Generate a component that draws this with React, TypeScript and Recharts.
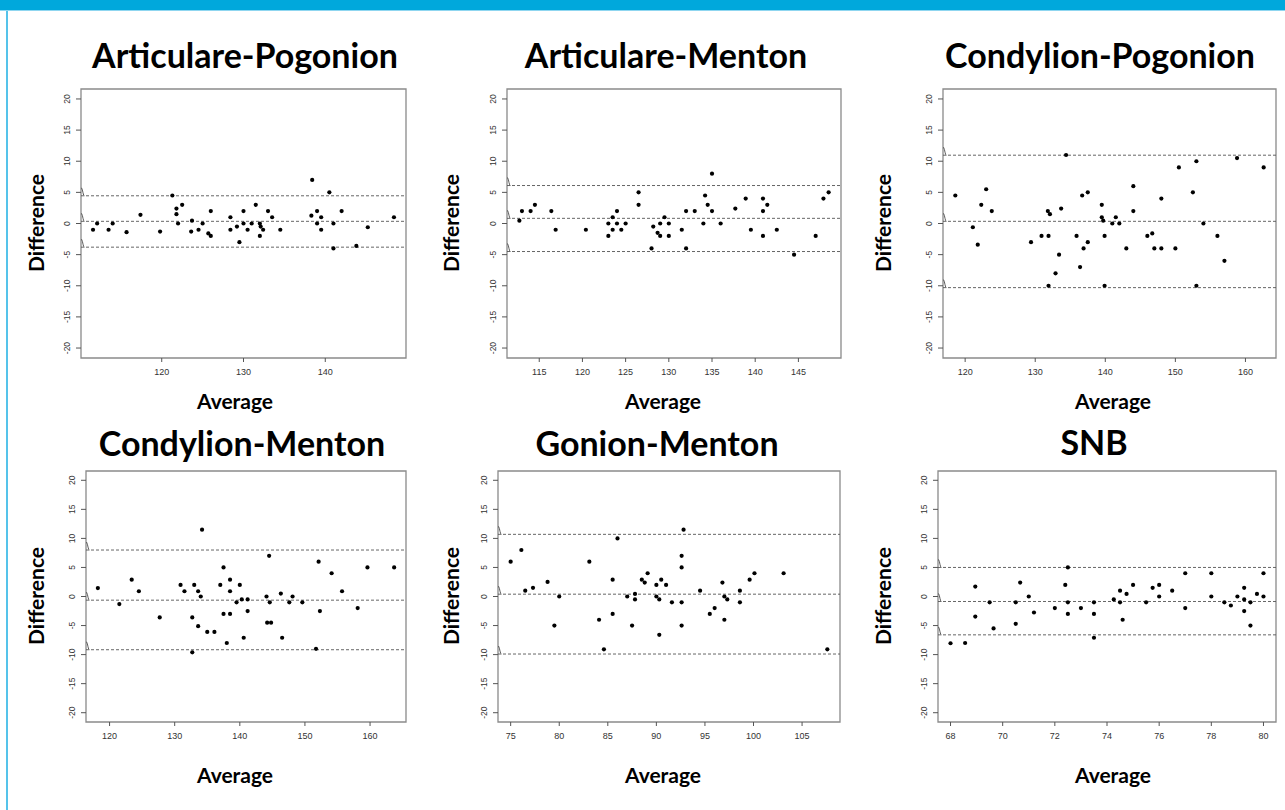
import { ScatterChart, Scatter, XAxis, YAxis, ReferenceLine, ReferenceArea } from "recharts";

// Bland-Altman data: average of the two measurements vs their difference
const apAvg = [111.6, 112.1, 113.5, 114.0, 115.7, 117.4, 119.8, 121.3, 121.8, 121.8, 122.0, 122.5, 123.7, 123.6, 124.5, 125.0, 125.7, 126.0, 126.0, 128.4, 128.4, 129.2, 129.5, 130.0, 130.0, 130.5, 131.0, 131.5, 132.0, 132.1, 132.4, 132.0, 133.0, 133.5, 134.5, 138.3, 138.4, 139.0, 139.0, 139.5, 139.5, 140.5, 141.0, 141.0, 142.0, 143.8, 145.2, 148.4];
const apDiff = [-1, 0, -1, 0, -1.4, 1.4, -1.3, 4.5, 2.4, 1.5, 0, 3, 0.45, -1.3, -1, 0, -1.6, -2, 2, 1, -1, -0.5, -3, 2, 0, -1, 0, 3, 0, -0.5, -1, -2, 2, 1, -1, 1.25, 7, 2, 0, 1, -1, 5, 0, -4, 2, -3.6, -0.6, 1];
const apLimits = [4.45, 0.35, -3.8];

const amAvg = [112.7, 113.0, 114.0, 114.5, 116.4, 116.9, 120.4, 123.0, 123.0, 123.5, 123.5, 124.0, 124.0, 124.5, 125.0, 126.5, 126.5, 128.0, 128.2, 128.7, 129.0, 129.0, 129.5, 130.0, 130.0, 131.5, 132.0, 132.0, 133.0, 134.0, 134.2, 134.5, 135.0, 135.0, 136.0, 137.7, 138.9, 139.5, 140.9, 140.9, 140.9, 141.4, 142.5, 144.5, 147.0, 147.9, 148.5];
const amDiff = [0.45, 2, 2, 3, 2, -1, -1, 0, -2, 1, -1, 2, 0, -1, 0, 5, 3, -4, -0.5, -1.5, -2, 0, 1, 0, -2, -1, 2, -4, 2, 0, 4.5, 3, 8, 2, 0, 2.4, 4, -1, 4, 2, -2, 3, -1, -5, -2, 4, 5];
const amLimits = [6.1, 0.83, -4.5];

const cpAvg = [118.6, 121.1, 121.8, 122.3, 123.0, 123.8, 129.4, 130.9, 131.8, 131.9, 132.1, 131.9, 132.9, 133.4, 133.7, 134.4, 135.9, 136.4, 136.7, 136.9, 137.5, 137.5, 139.5, 139.5, 139.7, 139.9, 139.9, 141.0, 141.5, 142.0, 143.0, 144.0, 144.0, 146.0, 146.7, 147.0, 148.0, 148.0, 150.0, 150.5, 152.5, 153.0, 153.0, 154.0, 156.0, 157.0, 158.8, 162.6];
const cpDiff = [4.5, -0.6, -3.4, 3, 5.5, 2, -3, -2, 2, -2, 1.5, -10, -8, -5, 2.4, 11, -2, -7, 4.5, -4, 5, -3, 3, 1, 0.45, -2, -10, 0, 1, 0, -4, 6, 2, -2, -1.6, -4, 4, -4, -4, 9, 5, 10, -10, 0, -2, -6, 10.5, 9];
const cpLimits = [10.97, 0.35, -10.3];

const cmAvg = [118.2, 121.5, 123.4, 124.5, 127.7, 130.9, 131.5, 132.7, 132.7, 133.0, 133.6, 133.6, 134.0, 134.2, 135.0, 136.1, 137.0, 137.5, 137.5, 138.0, 138.5, 138.5, 138.5, 139.5, 140.0, 140.3, 140.6, 141.2, 141.2, 144.1, 144.5, 144.6, 144.2, 144.8, 146.3, 146.5, 147.6, 148.1, 149.6, 151.7, 152.1, 152.3, 154.1, 155.7, 158.1, 159.6, 163.7];
const cmDiff = [1.45, -1.3, 2.9, 0.9, -3.6, 2, 0.9, -3.6, -9.6, 2, 0.9, -5.1, 0, 11.5, -6.1, -6.1, 2, 5, -3, -8, 2.9, 0.9, -3, -1, 2, -0.5, -7.1, -0.5, -2.5, 0, 7, -1, -4.5, -4.5, 0.5, -7.1, -1, 0, -1, -9, 6, -2.5, 4, 0.9, -2, 5, 5];
const cmLimits = [8.0, -0.63, -9.16];

const gmAvg = [75.0, 76.1, 76.5, 77.3, 78.8, 79.5, 80.0, 83.1, 84.1, 84.6, 85.5, 85.5, 86.0, 87.0, 87.5, 87.8, 87.8, 88.5, 88.8, 89.1, 90.0, 90.0, 90.3, 90.3, 90.5, 91.0, 91.6, 92.6, 92.6, 92.6, 92.6, 92.8, 94.5, 95.5, 96.0, 96.8, 97.0, 97.0, 97.3, 98.6, 98.6, 99.6, 100.1, 103.1, 107.6];
const gmDiff = [6, 8, 1, 1.5, 2.5, -5, 0, 6, -4, -9.1, 2.9, -3, 10, 0, -5, 0.45, -0.5, 2.9, 2.4, 4, 2, 0, -0.5, -6.6, 2.9, 2, -1, 7, 5, -1, -5, 11.5, 1, -3, -2, 2.4, 0, -4, -0.5, 1, -1, 2.9, 4, 4, -9.1];
const gmLimits = [10.7, 0.4, -9.9];

const snbAvg = [68.0, 68.56, 68.95, 68.95, 69.5, 69.65, 70.5, 70.5, 70.67, 71.0, 71.2, 72.0, 72.4, 72.5, 72.5, 72.5, 73.0, 73.5, 73.5, 73.5, 74.26, 74.5, 74.5, 74.6, 74.75, 75.0, 75.5, 75.75, 76.0, 76.0, 76.5, 77.0, 77.0, 78.0, 78.0, 78.5, 78.75, 79.0, 79.26, 79.26, 79.26, 79.5, 79.5, 79.75, 80.0, 80.0];
const snbDiff = [-8.05, -8, 1.7, -3.45, -1, -5.5, -1, -4.7, 2.4, 0, -2.75, -2, 2, 5, -1, -3, -2, -1, -3, -7.1, -0.5, 1, -1, -4, 0.45, 2, -1, 1.5, 2, 0, 1, 4, -2, 4, 0, -1, -1.55, 0, 1.5, -0.5, -2.5, -1, -5, 0.45, 4, 0];
const snbLimits = [5.0, -0.86, -6.6];

const Y_TICKS = [-20, -15, -10, -5, 0, 5, 10, 15, 20];
const Y_LIM: [number, number] = [-21.6, 21.6];

const PANELS = [
  { title: "Articulare-Pogonion", avg: apAvg, diff: apDiff, limits: apLimits, xTicks: [120, 130, 140], box: [81, 89, 406, 358], titleAt: [245, 54], diffX: 35, avgX: 235 },
  { title: "Articulare-Menton", avg: amAvg, diff: amDiff, limits: amLimits, xTicks: [115, 120, 125, 130, 135, 140, 145], box: [507, 89, 841, 358], titleAt: [666, 54], diffX: 450, avgX: 663 },
  { title: "Condylion-Pogonion", avg: cpAvg, diff: cpDiff, limits: cpLimits, xTicks: [120, 130, 140, 150, 160], box: [943, 89, 1276, 358], titleAt: [1100, 54], diffX: 882, avgX: 1113 },
  { title: "Condylion-Menton", avg: cmAvg, diff: cmDiff, limits: cmLimits, xTicks: [120, 130, 140, 150, 160], box: [86, 471, 406, 722], titleAt: [242, 442], diffX: 35, avgX: 235 },
  { title: "Gonion-Menton", avg: gmAvg, diff: gmDiff, limits: gmLimits, xTicks: [75, 80, 85, 90, 95, 100, 105], box: [498, 471, 840, 722], titleAt: [657, 442], diffX: 450, avgX: 663 },
  { title: "SNB", avg: snbAvg, diff: snbDiff, limits: snbLimits, xTicks: [68, 70, 72, 74, 76, 78, 80], box: [938, 471, 1276, 722], titleAt: [1094, 441], diffX: 882, avgX: 1113 },
];

const TICK_FONT = "'Liberation Sans', Arial, sans-serif";
const LABEL_FONT = "Lato, 'Open Sans', sans-serif";

// eslint-disable-next-line @typescript-eslint/no-explicit-any
function YTick({ x, y, payload }: any) {
  const cx = x - 7;
  return (
    <text x={cx} y={y} transform={`rotate(-90, ${cx}, ${y})`} textAnchor="middle" dominantBaseline="central" fontSize={8.5} fill="#333" fontFamily={TICK_FONT}>
      {payload.value}
    </text>
  );
}

// eslint-disable-next-line @typescript-eslint/no-explicit-any
function XTick({ x, y, payload }: any) {
  return (
    <text x={x} y={y + 8} textAnchor="middle" dominantBaseline="central" fontSize={9} fill="#333" fontFamily={TICK_FONT}>
      {payload.value}
    </text>
  );
}

// the little hook R leaves at the left end of each limit line
// eslint-disable-next-line @typescript-eslint/no-explicit-any
function Brace(props: any) {
  const vb = props.viewBox;
  if (!vb) return null;
  const { x, y } = vb;
  return (
    <path d={`M${x + 0.5} ${y - 8} Q${x + 1.5} ${y - 6} ${x + 2} ${y - 3} Q${x + 2.5} ${y} ${x + 3.5} ${y}`} fill="none" stroke="#333" strokeWidth={0.8} />
  );
}

// eslint-disable-next-line @typescript-eslint/no-explicit-any
const Dot = (p: any) => <circle cx={p.cx} cy={p.cy} r={2.1} fill="#000" />;

function BlandAltman({ panel }: { panel: (typeof PANELS)[number] }) {
  const [l, t, r, b] = panel.box;
  const data = panel.avg.map((a, i) => ({ avg: a, diff: panel.diff[i] }));
  const lo = Math.min(...panel.avg);
  const hi = Math.max(...panel.avg);
  const pad = (hi - lo) * 0.04;
  const xDom: [number, number] = [lo - pad, hi + pad];
  const yAxisW = 40;
  const xAxisH = 30;
  const w = yAxisW + (r - l) + 2;
  const h = 1 + (b - t) + xAxisH;

  return (
    <div style={{ position: "absolute", left: l - yAxisW, top: t - 1 }}>
      <ScatterChart width={w} height={h} margin={{ top: 1, right: 2, bottom: 0, left: 0 }}>
        <XAxis type="number" dataKey="avg" domain={xDom} allowDataOverflow ticks={panel.xTicks} height={xAxisH} axisLine={false} tickSize={4} tickLine={{ stroke: "#555" }} tick={<XTick />} interval={0} />
        <YAxis type="number" dataKey="diff" domain={Y_LIM} allowDataOverflow ticks={Y_TICKS} width={yAxisW} axisLine={false} tickSize={5} tickLine={{ stroke: "#555" }} tick={<YTick />} interval={0} />
        <ReferenceArea x1={xDom[0]} x2={xDom[1]} y1={Y_LIM[0]} y2={Y_LIM[1]} fill="none" stroke="#8a8a8a" strokeWidth={1.3} ifOverflow="visible" />
        {panel.limits.map((v, i) => (
          <ReferenceLine key={i} y={v} stroke="#555" strokeDasharray="3 2" strokeWidth={0.9} label={(p: any) => <Brace {...p} />} />
        ))}
        <Scatter data={data} shape={Dot} isAnimationActive={false} />
      </ScatterChart>
    </div>
  );
}

const centered = (x: number, y: number): React.CSSProperties => ({
  position: "absolute",
  left: x,
  top: y,
  transform: "translate(-50%, -50%)",
  whiteSpace: "nowrap",
  lineHeight: 1,
});

export default function App() {
  return (
    <div style={{ position: "absolute", left: 0, top: 0, width: 1285, height: 810, background: "#fff", overflow: "hidden", fontFamily: LABEL_FONT }}>
      <div style={{ position: "absolute", left: 6, top: 0, width: 2, height: 810, background: "#55c3ea" }} />
      <div style={{ position: "absolute", left: 0, top: 0, width: 1285, height: 10, background: "#00a8dc" }} />
      <div style={{ position: "absolute", left: 0, top: 10, width: 1285, height: 1, background: "#8fd6f0" }} />
      {PANELS.map((p) => {
        const midY = (p.box[1] + p.box[3]) / 2;
        const avgY = p.box[1] < 200 ? 400 : 774;
        return (
          <div key={p.title}>
            <div style={{ ...centered(p.titleAt[0], p.titleAt[1] + 1), fontSize: 34, fontWeight: 700, color: "#000" }}>{p.title}</div>
            <div style={{ ...centered(p.diffX, midY - 1), transform: "translate(-50%, -50%) rotate(-90deg)", fontSize: 21, fontWeight: 700, color: "#000" }}>Difference</div>
            <div style={{ ...centered(p.avgX, avgY), fontSize: 21, fontWeight: 700, color: "#000" }}>Average</div>
            <BlandAltman panel={p} />
          </div>
        );
      })}
    </div>
  );
}
